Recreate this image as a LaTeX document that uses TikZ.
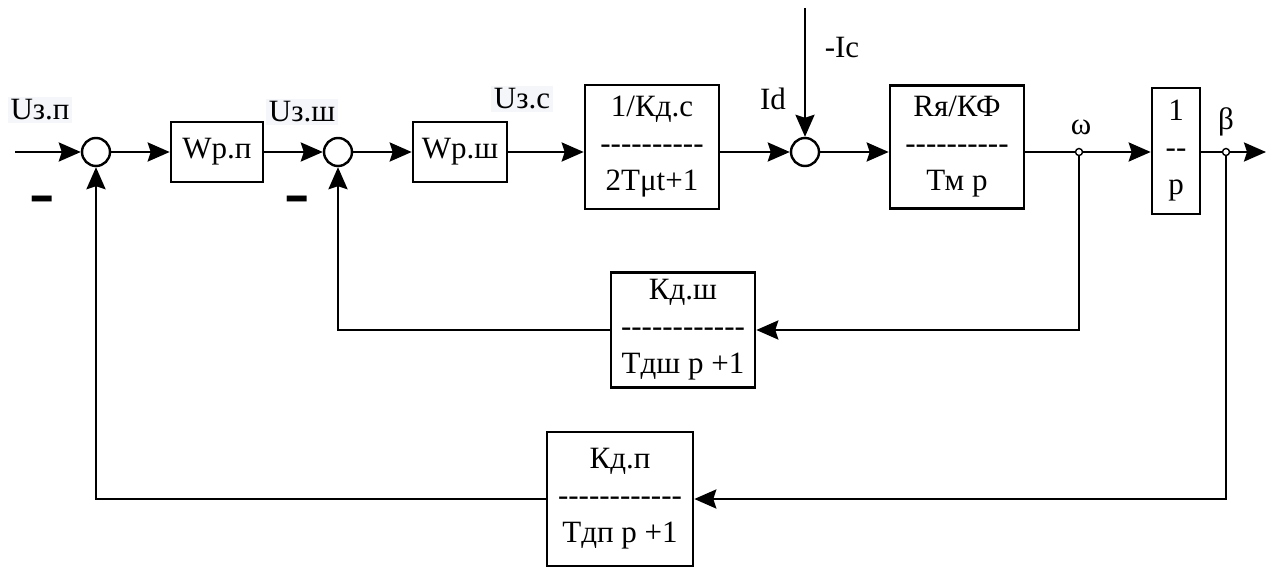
\documentclass[tikz,border=0pt]{standalone}
\usepackage{fontspec}
\newfontfamily\lbl{Liberation Serif}
\usetikzlibrary{arrows.meta}
\definecolor{hilite}{RGB}{244,246,250}

\tikzset{
  arr/.style={-{Stealth[length=22pt,width=19pt,inset=3pt]}},
  blk/.style={draw,line width=2.6pt,fill=white,inner sep=0pt},
  summ/.style={draw,circle,line width=2.4pt,minimum size=28pt,inner sep=0pt},
  jdot/.style={draw,circle,line width=1.4pt,fill=white,minimum size=7pt,inner sep=0pt},
  sig/.style={fill=hilite,inner sep=3pt},
}

\begin{document}
\begin{tikzpicture}[x=1pt,y=-1pt,line width=2.6pt,
  font=\lbl\fontsize{31}{37}\selectfont]
\useasboundingbox (0,0) rectangle (1271,569);

% forward path
\node[summ] (s1) at (96,152) {};
\node[blk,minimum width=92pt,minimum height=60pt] (wpp) at (217,152) {Wp.п};
\node[summ] (s2) at (338,152) {};
\node[blk,minimum width=94pt,minimum height=60pt] (wpsh) at (460,152) {Wp.ш};
\node[blk,minimum width=134pt,minimum height=124pt,align=center] (kdc) at (652,147)
  {1/Кд.с\\----------\\2Tμt+1};
\node[summ] (s3) at (805,152) {};
\node[blk,minimum width=134pt,minimum height=123pt,align=center] (rya) at (957,147)
  {Rя/КФ\\----------\\Тм р};
\node[jdot] (om) at (1079,152) {};
\node[blk,minimum width=48pt,minimum height=126pt,align=center] (intg) at (1176,151)
  {1\\--\\p};
\node[jdot] (bt) at (1226,152) {};

% feedback
\node[blk,minimum width=144pt,minimum height=115pt,align=center] (kdsh) at (683,330)
  {Кд.ш\\------------\\Тдш р +1};
\node[blk,minimum width=146pt,minimum height=134pt,align=center] (kdp) at (620,499)
  {Кд.п\\------------\\Тдп р +1};

\coordinate (uin) at (15,152);
\coordinate (icin) at (805,8);
\coordinate (out) at (1266,152);

% labels
\node[sig] (lu1) at (40,110) {Uз.п};
\node[sig] (lu2) at (302,112) {Uз.ш};
\node[sig] (lu3) at (522,99) {Uз.с};
\node (lid) at (773,99) {Id};
\node (lic) at (842,48) {-Ic};
\node (lom) at (1081,127) {ω};
\node (lbt) at (1226,122) {β};
\node (m1) at (42,207) {\scalebox{1.25}[2.7]{\bfseries –}};
\node (m2) at (297,207) {\scalebox{1.25}[2.7]{\bfseries –}};

% connectors
\draw[arr] (uin) -- (s1);
\draw[arr] (s1) -- (wpp);
\draw[arr] (wpp) -- (s2);
\draw[arr] (s2) -- (wpsh);
\draw[arr] (wpsh) -- (wpsh -| kdc.west);
\draw[arr] (kdc.east |- s3) -- (s3);
\draw[arr] (icin) -- (s3);
\draw[arr] (s3) -- (s3 -| rya.west);
\draw (rya.east |- om) -- (om);
\draw[arr] (om) -- (om -| intg.west);
\draw (intg.east |- bt) -- (bt);
\draw[arr] (bt) -- (out);
\draw[arr] (om) |- (kdsh.east);
\draw[arr] (kdsh.west) -| (s2.south);
\draw[arr] (bt) |- (kdp.east);
\draw[arr] (kdp.west) -| (s1.south);
\end{tikzpicture}
\end{document}
